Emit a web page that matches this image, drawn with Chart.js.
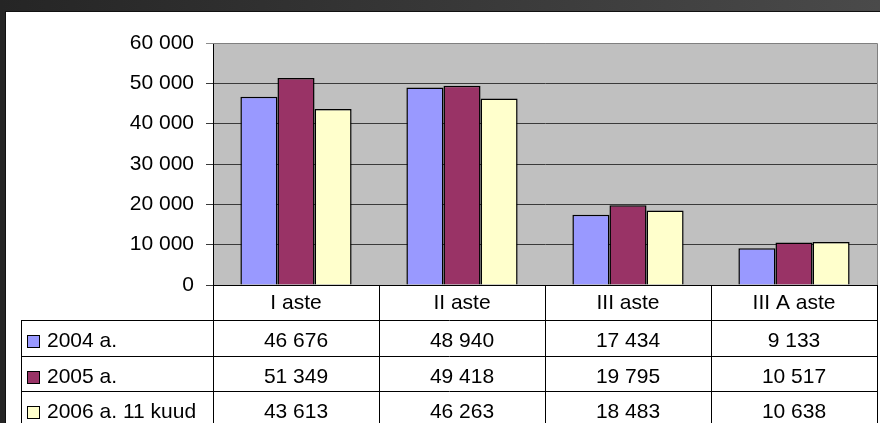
<!DOCTYPE html>
<html>
<head>
<meta charset="utf-8">
<script src="https://cdn.jsdelivr.net/npm/chart.js@4/dist/chart.umd.min.js"></script>
<style>
  html, body { margin: 0; padding: 0; }
  body { width: 880px; height: 423px; overflow: hidden; background: linear-gradient(to right, #252525, #4a4a4a); }
  canvas { display: block; }
</style>
</head>
<body>
<canvas id="chart" width="880" height="423"></canvas>
<script>
// andmed
const categories = ['I aste', 'II aste', 'III aste', 'III A aste'];
const seriesLabels = ['2004 a.', '2005 a.', '2006 a. 11 kuud'];
const values2004 = [46676, 48940, 17434, 9133];
const values2005 = [51349, 49418, 19795, 10517];
const values2006 = [43613, 46263, 18483, 10638];
const seriesColors = ['#9999FF', '#993366', '#FFFFCC'];
const yMin = 0, yMax = 60000, yStep = 10000;

const FONT = '"Liberation Sans", Arial, sans-serif';
const FONT_SIZE = 21;
const fmt = v => String(v).replace(/\B(?=(\d{3})+(?!\d))/g, ' ');

// valge taust + hall joonise ala
const backdrop = {
    id: 'backdrop',
    beforeDraw(chart) {
        const ctx = chart.ctx, a = chart.chartArea;
        ctx.save();
        ctx.fillStyle = '#111';
        ctx.fillRect(5, 11, 875, 412);
        ctx.fillStyle = '#fff';
        ctx.fillRect(6, 12, 874, 411);
        ctx.fillStyle = '#C0C0C0';
        ctx.fillRect(a.left, a.top, a.right - a.left, a.bottom - a.top);
        ctx.restore();
    }
};

// andmetabel graafiku all
const dataTable = {
    id: 'dataTable',
    afterDraw(chart) {
        const ctx = chart.ctx, a = chart.chartArea, xs = chart.scales.x;
        const rows = [values2004, values2005, values2006];
        const rowH = 35.5, tableLeft = 21;
        const catW = (a.right - a.left) / categories.length;
        const rowTop = i => Math.floor(a.bottom + i * rowH);
        const px = v => Math.round(v) + 0.5;
        const bottom = chart.height;

        ctx.save();
        // joonise ala serv (hall)
        ctx.strokeStyle = '#808080';
        ctx.lineWidth = 1;
        ctx.beginPath();
        ctx.moveTo(a.left, px(a.top)); ctx.lineTo(px(a.right), px(a.top));
        ctx.lineTo(px(a.right), a.bottom);
        ctx.stroke();

        ctx.strokeStyle = '#000';
        ctx.beginPath();
        ctx.moveTo(a.left, px(a.bottom)); ctx.lineTo(a.right + 1, px(a.bottom));
        for (let i = 1; i <= 3; i++) {
            ctx.moveTo(tableLeft, px(rowTop(i))); ctx.lineTo(a.right + 1, px(rowTop(i)));
        }
        for (let j = 0; j <= categories.length; j++) {
            const x = px(a.left + j * catW);
            ctx.moveTo(x, a.bottom); ctx.lineTo(x, bottom);
        }
        ctx.moveTo(px(tableLeft), rowTop(1)); ctx.lineTo(px(tableLeft), bottom);
        ctx.stroke();

        ctx.fillStyle = '#000';
        ctx.font = FONT_SIZE + 'px ' + FONT;
        ctx.textBaseline = 'alphabetic';
        ctx.textAlign = 'center';
        categories.forEach((c, j) => {
            ctx.fillText(c, xs.getPixelForValue(j), rowTop(0) + 24);
        });
        rows.forEach((vals, i) => {
            const t = rowTop(i + 1);
            vals.forEach((v, j) => {
                ctx.fillText(fmt(v), xs.getPixelForValue(j), t + 27);
            });
        });
        ctx.textAlign = 'left';
        seriesLabels.forEach((lab, i) => {
            const t = rowTop(i + 1);
            ctx.fillStyle = seriesColors[i];
            ctx.fillRect(27, t + 15, 13, 13);
            ctx.strokeStyle = '#000';
            ctx.strokeRect(27.5, t + 15.5, 12, 12);
            ctx.fillStyle = '#000';
            ctx.fillText(lab, 47, t + 27);
        });
        ctx.restore();
    }
};

new Chart(document.getElementById('chart'), {
    type: 'bar',
    data: {
        labels: categories,
        datasets: [values2004, values2005, values2006].map((d, i) => ({
            label: seriesLabels[i],
            data: d,
            backgroundColor: seriesColors[i],
            borderColor: '#000',
            borderWidth: 1.5,
            categoryPercentage: 0.67,
            barPercentage: 1
        }))
    },
    options: {
        responsive: false,
        devicePixelRatio: 1,
        animation: false,
        layout: { padding: { left: 0, top: 43, right: 3, bottom: 138 } },
        plugins: { legend: { display: false }, tooltip: { enabled: false } },
        scales: {
            x: { display: false },
            y: {
                min: yMin,
                max: yMax,
                afterFit: s => { s.width = 213; },
                ticks: {
                    stepSize: yStep,
                    padding: 12,
                    color: '#000',
                    font: { family: FONT, size: FONT_SIZE },
                    callback: v => fmt(v)
                },
                grid: {
                    color: c => c.tick && c.tick.value === yMax ? '#8c8c8c' : '#3a3a3a',
                    tickLength: 7,
                    lineWidth: 1
                },
                border: { color: '#000', width: 1 }
            }
        }
    },
    plugins: [backdrop, dataTable]
});
</script>
</body>
</html>
